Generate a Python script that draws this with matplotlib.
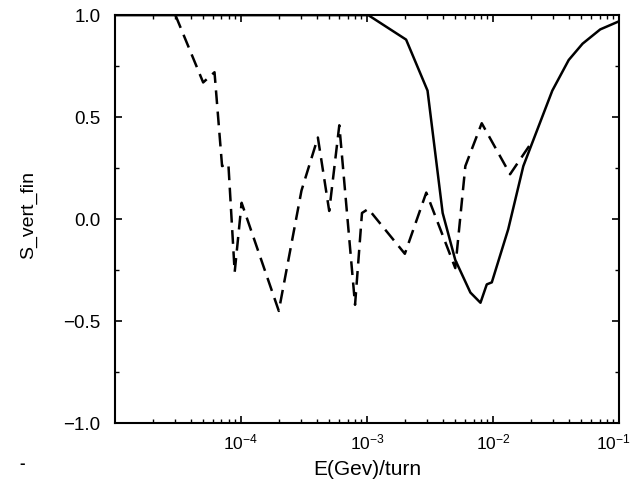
import numpy as np
import matplotlib.pyplot as plt
import matplotlib.transforms as mtransforms
from matplotlib.ticker import LogLocator, MultipleLocator

plt.rcParams['font.family'] = ['Liberation Sans', 'DejaVu Sans']
plt.rcParams['mathtext.fontset'] = 'custom'
plt.rcParams['mathtext.rm'] = 'Liberation Sans'

# solid curve: log10(E) and S
solid_logE = [-5.0, -2.99, -2.69, -2.52, -2.40, -2.30, -2.18, -2.10, -2.05, -2.01,
              -1.88, -1.76, -1.53, -1.40, -1.29, -1.15, -1.0]
solid_S = [1.0, 1.0, 0.88, 0.63, 0.03, -0.20, -0.36, -0.41, -0.32, -0.31,
           -0.05, 0.26, 0.63, 0.78, 0.86, 0.93, 0.97]

# dashed curve
dash_logE = [-4.52, -4.30, -4.21, -4.15, -4.10, -4.05, -3.995, -3.70, -3.52, -3.39,
             -3.30, -3.22, -3.095, -3.04, -2.99, -2.70, -2.53, -2.30, -2.22, -2.09,
             -1.865, -1.69]
dash_S = [1.0, 0.67, 0.72, 0.26, 0.27, -0.26, 0.08, -0.45, 0.14, 0.40,
          0.04, 0.46, -0.42, 0.03, 0.05, -0.17, 0.13, -0.24, 0.26, 0.47,
          0.22, 0.38]

yticks = [-1.0, -0.5, 0.0, 0.5, 1.0]
ylabels = ['\u22121.0', '\u22120.5', '0.0', '0.5', '1.0']

fig = plt.figure(figsize=(6.35, 4.88), dpi=100)
ax = fig.add_axes([0.181, 0.133, 0.794, 0.836])

ax.plot(10**np.array(solid_logE), solid_S, color='k', lw=1.8)
ax.plot(10**np.array(dash_logE), dash_S, color='k', lw=1.8, dashes=(5.5, 3))

ax.set_xscale('log')
ax.set_xlim(1e-5, 1e-1)
ax.set_ylim(-1.0, 1.0)
ax.set_xticks([1e-4, 1e-3, 1e-2, 1e-1])
ax.xaxis.set_minor_locator(LogLocator(base=10, subs=np.arange(2, 10)))
ax.set_yticks(yticks)
ax.set_yticklabels(ylabels)
ax.yaxis.set_minor_locator(MultipleLocator(0.25))

ax.tick_params(which='both', direction='in', top=True, right=True)
ax.tick_params(which='major', length=5, width=1.2)
ax.tick_params(which='minor', length=3, width=1)
ax.tick_params(axis='x', pad=6.5, labelsize=12.5)
ax.tick_params(axis='y', pad=10.5, labelsize=13.5)
for s in ax.spines.values():
    s.set_linewidth(1.5)

# last x label sits a bit left of its tick, as in the original
last = ax.get_xticklabels()[-1]
last.set_transform(last.get_transform() +
                   mtransforms.ScaledTranslation(-5.5 / 100, 0, fig.dpi_scale_trans))

ax.set_xlabel('E(Gev)/turn', fontsize=15)
ax.xaxis.set_label_coords(0.5, -0.091)
ax.set_ylabel('S_vert_fin', fontsize=14)
ax.yaxis.set_label_coords(-0.155, 0.51)

fig.text(0.035, 0.05, '-', fontsize=12, fontweight='bold', ha='center', va='center')

plt.savefig('out.png', dpi=100)
